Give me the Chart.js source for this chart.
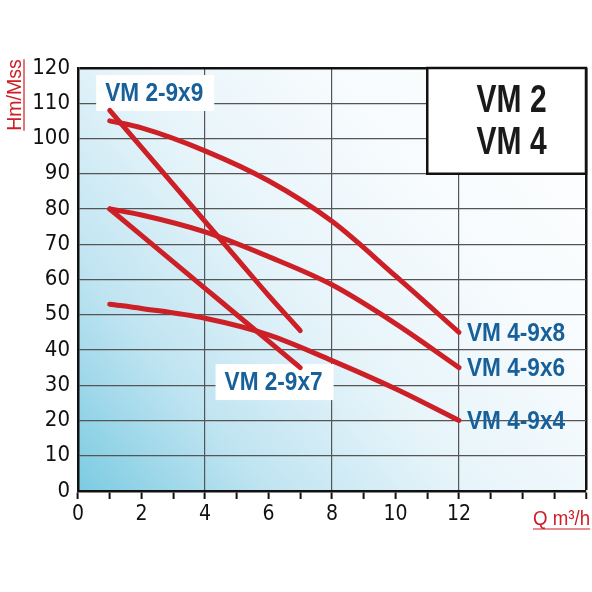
<!DOCTYPE html>
<html>
<head>
<meta charset="utf-8">
<script src="https://cdn.jsdelivr.net/npm/chart.js@4.4.0/dist/chart.umd.min.js"></script>
<style>
  html, body { margin: 0; padding: 0; background: #fff; }
  canvas { display: block; }
</style>
</head>
<body>
<canvas id="grafico" width="592" height="592"></canvas>
<script>
// caudal Q m3/h
var qVM2 = [1, 2, 3, 4, 5, 6, 7];
var qVM4 = [1, 2, 4, 6, 8, 10, 12];

// altura Hm
var hVM2_9x9 = [108, 97.5, 87, 76.5, 66, 55.5, 45.5];
var hVM2_9x7 = [80, 72.5, 65, 57.5, 50, 42.5, 35];
var hVM4_9x8 = [105, 103, 96.5, 88, 76.5, 61, 45];
var hVM4_9x6 = [80, 78.3, 73.5, 66.5, 58.5, 47.5, 35];
var hVM4_9x4 = [53, 51.8, 49, 44.3, 37, 29, 20];

var seriesNames = ['VM 2-9x9', 'VM 2-9x7', 'VM 4-9x8', 'VM 4-9x6', 'VM 4-9x4'];
var xTickLabels = [0, 2, 4, 6, 8, 10, 12];
var titleLines = ['VM 2', 'VM 4'];

var ROJO = '#cc1f26';
var AZUL = '#17609a';
var TICKS = "'DejaVu Sans Condensed', sans-serif";
var SANS = "'Liberation Sans', Arial, sans-serif";

function puntos(xs, ys) {
    var out = [];
    for (var i = 0; i < xs.length; i++) out.push({ x: xs[i], y: ys[i] });
    return out;
}

function curva(label, xs, ys) {
    return {
        label: label,
        data: puntos(xs, ys),
        borderColor: ROJO,
        borderWidth: 5,
        borderCapStyle: 'round',
        pointRadius: 0,
        fill: false,
        cubicInterpolationMode: 'monotone'
    };
}

// texto comprimido en horizontal (no hay fuente narrow)
function angosto(ctx, txt, x, y, sx) {
    ctx.save();
    ctx.translate(x, y);
    ctx.scale(sx, 1);
    ctx.fillText(txt, 0, 0);
    ctx.restore();
    return ctx.measureText(txt).width * sx;
}

var extras = {
    id: 'extras',
    beforeDraw: function (chart) {
        var ctx = chart.ctx, a = chart.chartArea;
        var g = ctx.createLinearGradient(a.left, a.bottom, a.right, a.top);
        g.addColorStop(0, '#7ccbe2');
        g.addColorStop(0.22, '#bfe4f1');
        g.addColorStop(0.45, '#e6f4fa');
        g.addColorStop(0.7, '#f7fbfd');
        g.addColorStop(1, '#ffffff');
        ctx.save();
        ctx.fillStyle = g;
        ctx.fillRect(a.left, a.top, a.right - a.left, a.bottom - a.top);
        ctx.restore();
    },
    beforeDatasetsDraw: function (chart) {
        var ctx = chart.ctx;
        var xs = chart.scales.x, ys = chart.scales.y;
        ctx.save();

        // caja del titulo
        var bx1 = xs.getPixelForValue(11), bx2 = xs.getPixelForValue(16);
        var by1 = ys.getPixelForValue(120), by2 = ys.getPixelForValue(90);
        ctx.fillStyle = '#fff';
        ctx.fillRect(bx1, by1, bx2 - bx1, by2 - by1);
        ctx.strokeStyle = '#111';
        ctx.lineWidth = 2.5;
        ctx.strokeRect(bx1, by1, bx2 - bx1, by2 - by1);
        ctx.fillStyle = '#1a1a1a';
        ctx.font = 'bold 39px ' + SANS;
        ctx.textAlign = 'center';
        ctx.textBaseline = 'middle';
        var cx = (bx1 + bx2) / 2 + 5, cy = (by1 + by2) / 2;
        angosto(ctx, titleLines[0], cx, cy - 20, 0.77);
        angosto(ctx, titleLines[1], cx, cy + 22, 0.77);

        // etiquetas con fondo blanco
        ctx.font = 'bold 26px ' + SANS;
        function etiqueta(txt, xv, yv) {
            var px = xs.getPixelForValue(xv), py = ys.getPixelForValue(yv);
            var w = ctx.measureText(txt).width * 0.87;
            ctx.fillStyle = '#fff';
            ctx.fillRect(px - w / 2 - 9, py - 18, w + 20, 36);
            ctx.fillStyle = AZUL;
            angosto(ctx, txt, px, py + 1, 0.87);
        }
        etiqueta(seriesNames[0], 2.4, 112.9);
        etiqueta(seriesNames[1], 6.16, 30.9);
        ctx.restore();
    },
    afterDraw: function (chart) {
        var ctx = chart.ctx;
        var xs = chart.scales.x, ys = chart.scales.y;
        ctx.save();

        // etiquetas al final de las curvas VM 4
        ctx.font = 'bold 26px ' + SANS;
        ctx.fillStyle = AZUL;
        ctx.textAlign = 'left';
        ctx.textBaseline = 'middle';
        var fin = [hVM4_9x8, hVM4_9x6, hVM4_9x4];
        for (var i = 0; i < fin.length; i++) {
            var ultimo = fin[i].length - 1;
            angosto(ctx, seriesNames[i + 2], xs.getPixelForValue(qVM4[ultimo]) + 8,
                ys.getPixelForValue(fin[i][ultimo]) + 1, 0.87);
        }

        // titulos de ejes
        ctx.fillStyle = ROJO;
        ctx.strokeStyle = ROJO;
        ctx.lineWidth = 1.2;
        ctx.font = '21px ' + SANS;
        ctx.textBaseline = 'alphabetic';

        ctx.save();
        ctx.translate(21, 95);
        ctx.rotate(-Math.PI / 2);
        ctx.textAlign = 'center';
        var t = 'Hm/Mss';
        var w = angosto(ctx, t, 0, 0, 0.93);
        ctx.beginPath();
        ctx.moveTo(-w / 2, 3);
        ctx.lineTo(w / 2, 3);
        ctx.stroke();
        ctx.restore();

        ctx.textAlign = 'left';
        var wq = angosto(ctx, 'Q m\u00b3/h', 533, 525, 0.89);
        ctx.beginPath();
        ctx.moveTo(533, 529);
        ctx.lineTo(533 + wq, 529);
        ctx.stroke();
        ctx.restore();
    }
};

var grafico = new Chart(document.getElementById('grafico'), {
    type: 'line',
    data: {
        datasets: [
            curva(seriesNames[0], qVM2, hVM2_9x9),
            curva(seriesNames[1], qVM2, hVM2_9x7),
            curva(seriesNames[2], qVM4, hVM4_9x8),
            curva(seriesNames[3], qVM4, hVM4_9x6),
            curva(seriesNames[4], qVM4, hVM4_9x4)
        ]
    },
    options: {
        responsive: false,
        animation: false,
        devicePixelRatio: 1,
        layout: { padding: { top: 68, right: 6, left: 0, bottom: 0 } },
        plugins: { legend: { display: false }, tooltip: { enabled: false } },
        scales: {
            x: {
                type: 'linear',
                min: 0,
                max: 16,
                afterFit: function (s) { s.height = 101; },
                border: { display: true, color: '#111', width: 2.5 },
                grid: {
                    color: function (c) {
                        var v = c.tick.value;
                        if (v === 16) return '#111';
                        if (v > 0 && v % 4 === 0) return '#555';
                        return 'rgba(0,0,0,0)';
                    },
                    lineWidth: function (c) { return c.tick.value === 16 ? 2.5 : 1.2; },
                    tickColor: '#111',
                    tickWidth: 2,
                    tickLength: 8
                },
                ticks: {
                    stepSize: 1,
                    autoSkip: false,
                    maxRotation: 0,
                    padding: 3,
                    color: '#111',
                    font: { family: TICKS, size: 21 },
                    callback: function (v) {
                        return xTickLabels.indexOf(v) >= 0 ? String(v) : '';
                    }
                }
            },
            y: {
                min: 0,
                max: 120,
                afterFit: function (s) { s.width = 78; },
                border: { display: true, color: '#111', width: 2.5 },
                grid: {
                    color: function (c) {
                        var v = c.tick.value;
                        if (v === 120) return '#111';
                        if (v === 0) return 'rgba(0,0,0,0)';
                        return '#555';
                    },
                    lineWidth: function (c) { return c.tick.value === 120 ? 2.5 : 1.2; },
                    drawTicks: false
                },
                ticks: {
                    stepSize: 10,
                    padding: 8,
                    color: '#111',
                    font: { family: TICKS, size: 22 }
                }
            }
        }
    },
    plugins: [extras]
});
</script>
</body>
</html>
